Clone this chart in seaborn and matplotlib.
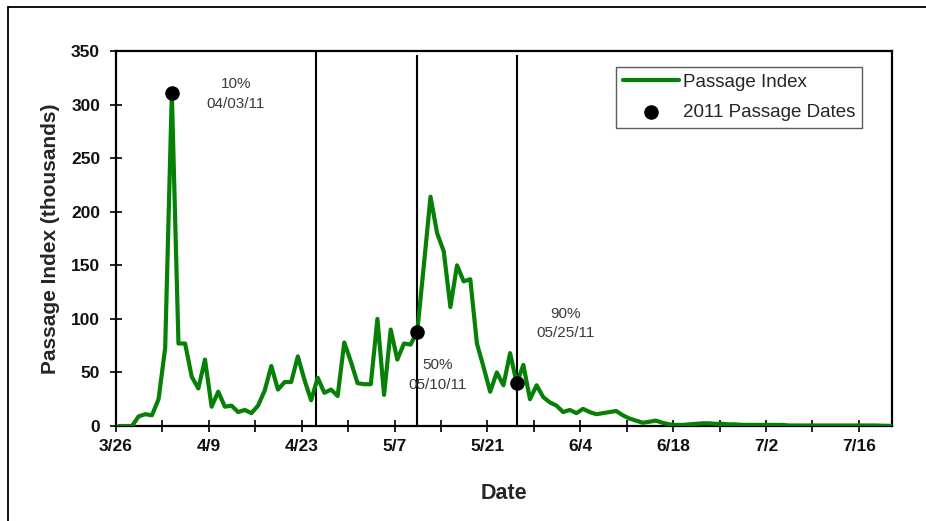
import numpy as np
import pandas as pd
import matplotlib
matplotlib.use("Agg")
import matplotlib.pyplot as plt
from matplotlib import font_manager
from matplotlib.lines import Line2D
import seaborn as sns

# Daily passage index (thousands), starting 3/26/2011
start_date = "2011-03-26"
passage_index = [
    0, 0, 0, 9, 11, 10, 25, 73, 311, 77,
    77, 46, 35, 62, 18, 32, 18, 19, 13, 15,
    12, 19, 33, 56, 34, 41, 41, 65, 43, 24,
    45, 31, 34, 28, 78, 60, 40, 39, 39, 100,
    29, 90, 62, 77, 76, 88, 150, 214, 180, 163,
    111, 150, 135, 137, 77, 55, 32, 50, 38, 68,
    40, 57, 25, 38, 27, 22, 19, 13, 15, 12,
    16, 13, 11, 12, 13, 14, 10, 7, 5, 3,
    4, 5, 3, 1.5, 1, 1, 1.5, 2, 2.5, 2.5,
    2, 2, 1.5, 1.5, 1, 1, 1, 1, 1, 1,
    1, 0.5, 0.5, 0.5, 0.5, 0.5, 0.5, 0.5, 0.5, 0.5,
    0.5, 0.5, 0.5, 0.5, 0.5, 0.3, 0.2, 0,
]

# Cumulative passage milestones
milestone_labels = ["10%", "50%", "90%"]
milestone_dates = ["2011-04-03", "2011-05-10", "2011-05-25"]
milestone_values = [311, 88, 40]

# Reference lines
ref_line_dates = ["2011-04-25", "2011-05-10", "2011-05-25"]
ref_line_tops = [350, 346, 346]

x_tick_labels = ["3/26", "4/9", "4/23", "5/7", "5/21", "6/4", "6/18", "7/2", "7/16"]
y_ticks = [0, 50, 100, 150, 200, 250, 300, 350]

# daily values are plotted near mid-day
shift = pd.Timedelta(hours=10)
dates = pd.date_range(start_date, periods=len(passage_index), freq="D") + shift
df = pd.DataFrame({"Date": dates, "Passage Index": passage_index})
ms = pd.DataFrame({"Date": pd.to_datetime(milestone_dates) + shift,
                   "Value": milestone_values})

sns.set_style("white")
plt.rcParams["font.family"] = ["Liberation Sans", "DejaVu Sans"]


def has_font(name):
    try:
        font_manager.findfont(font_manager.FontProperties(family=name),
                              fallback_to_default=False)
        return True
    except Exception:
        return False


narrow = has_font("Liberation Sans Narrow")
tick_family = "Liberation Sans Narrow" if narrow else "Liberation Sans"
tick_size = 14 if narrow else 12.5

fig = plt.figure(figsize=(9.26, 5.21), dpi=100)
ax = fig.add_axes([116 / 926, 1 - 426 / 521, 776 / 926, 375 / 521])

# outer frame lines (left and top)
fig.add_artist(Line2D([8 / 926, 8 / 926], [0, 1 - 7 / 521], transform=fig.transFigure,
                      color="black", lw=1.3))
fig.add_artist(Line2D([8 / 926, 1], [1 - 7 / 521, 1 - 7 / 521], transform=fig.transFigure,
                      color="black", lw=1.3))

ref_x = [pd.Timestamp(ref_line_dates[0]) + pd.Timedelta(hours=2)] + \
    [pd.Timestamp(d) + shift for d in ref_line_dates[1:]]
for d, top in zip(ref_x, ref_line_tops):
    ax.vlines(d, 0, top, color="black", lw=1.5, zorder=2)

sns.lineplot(data=df, x="Date", y="Passage Index", ax=ax, color="#068006",
             lw=3, label="Passage Index", zorder=3)
sns.scatterplot(data=ms, x="Date", y="Value", ax=ax, color="black", s=110,
                edgecolor="black", linewidth=0, label="2011 Passage Dates", zorder=4)

# milestone annotations
offsets = [(46, -1), (15, -31), (35, 43)]
for lab, d, v, off in zip(milestone_labels, pd.to_datetime(milestone_dates),
                          milestone_values, offsets):
    txt = f"{lab}\n{d.strftime('%m/%d/%y')}"
    ax.annotate(txt, xy=(d + shift, v), xytext=off,
                textcoords="offset points", ha="center", va="center",
                fontsize=11, color="#3a3a3a", linespacing=1.5)

ax.set_xlim(pd.Timestamp(start_date),
            pd.Timestamp(start_date) + pd.Timedelta(days=len(passage_index) - 1))
ax.set_ylim(0, 350)
major = pd.date_range(start_date, periods=len(x_tick_labels), freq="14D")
minor = pd.date_range(start_date, periods=17, freq="7D")
ax.set_xticks(major)
ax.set_xticklabels(x_tick_labels)
ax.set_xticks(minor, minor=True)
ax.set_yticks(y_ticks)

ax.tick_params(axis="both", which="both", direction="inout", length=9, width=1.2,
               color="black", bottom=True, left=True)
for lbl in ax.get_xticklabels() + ax.get_yticklabels():
    lbl.set_fontweight("bold")
    lbl.set_fontsize(tick_size)
    lbl.set_family([tick_family, "DejaVu Sans"])
    lbl.set_color("#111111")
ax.tick_params(axis="x", pad=5)
ax.tick_params(axis="y", pad=7)

for sp in ax.spines.values():
    sp.set_visible(True)
    sp.set_color("black")
    sp.set_linewidth(1.6)

ax.set_xlabel("Date", fontsize=15.5, fontweight="bold", labelpad=21)
ax.set_ylabel("Passage Index (thousands)", fontsize=15, fontweight="bold", labelpad=8)
ax.grid(False)

leg = ax.legend(loc="upper right", bbox_to_anchor=(0.961, 0.957), fontsize=13.5,
                frameon=True, fancybox=False, handlelength=3.0, handletextpad=0.2,
                borderpad=0.35, labelspacing=0.7, borderaxespad=0)
leg.get_frame().set_edgecolor("#333333")
leg.get_frame().set_linewidth(1.0)

fig.savefig("out.png", dpi=100)
